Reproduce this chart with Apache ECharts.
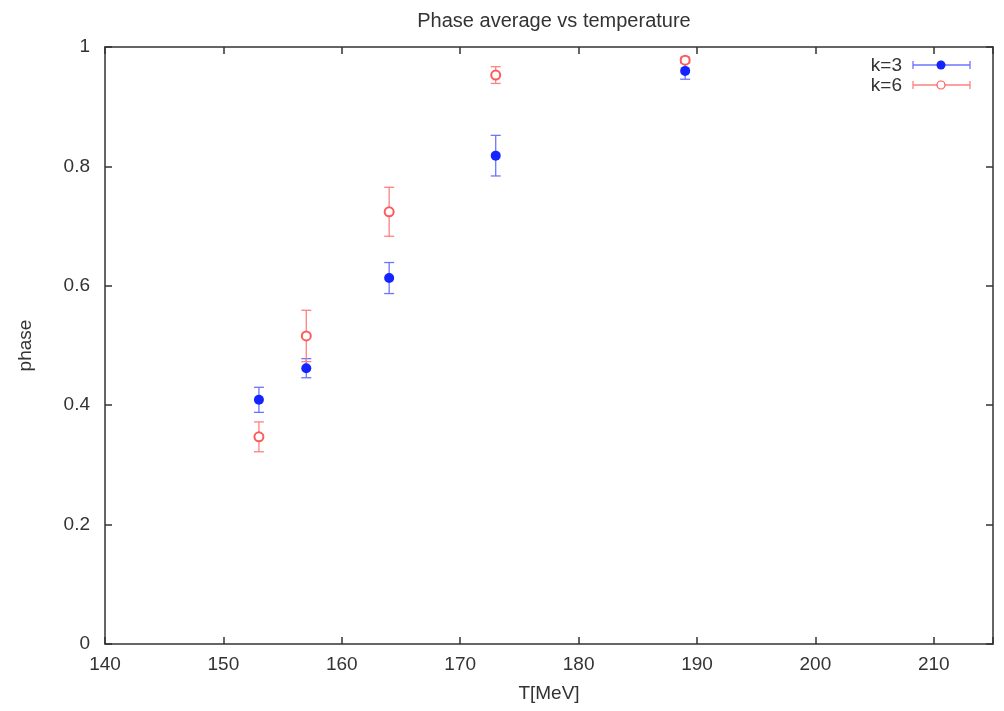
<!DOCTYPE html>
<html>
<head>
<meta charset="utf-8">
<script src="https://cdn.jsdelivr.net/npm/echarts@6/dist/echarts.min.js"></script>
<style>
  html, body { margin: 0; padding: 0; background: #fff; }
  #chart { width: 1004px; height: 711px; }
</style>
</head>
<body>
<div id="chart"></div>
<script>
// temperatures (MeV) and phase averages with errors
const temps = [153, 157, 164, 173, 189]
const k3Phase = [0.409, 0.462, 0.613, 0.818, 0.960]
const k3Err = [0.021, 0.016, 0.026, 0.034, 0.014]
const k6Phase = [0.347, 0.516, 0.724, 0.953, 0.978]
const k6Err = [0.025, 0.043, 0.041, 0.014, 0.005]

const xTicks = [140, 150, 160, 170, 180, 190, 200, 210]
const yTicks = [0, 0.2, 0.4, 0.6, 0.8, 1]

const FONT = 'Liberation Sans'
const FS = 19
const AXIS_COLOR = '#333'
const TEXT_COLOR = '#333'

const blue = '#1424ff'
const blueBar = '#6c74ff'
const red = '#ff5a5a'
const redBar = '#ff8080'

function errData(phase, err) {
  return temps.map((t, i) => [t, phase[i] - err[i], phase[i] + err[i]])
}

function errRender(color) {
  return function (params, api) {
    const x = api.value(0)
    const lo = api.coord([x, api.value(1)])
    const hi = api.coord([x, api.value(2)])
    const hw = 5
    const style = { stroke: color, lineWidth: 1.3 }
    return {
      type: 'group',
      children: [
        { type: 'line', shape: { x1: hi[0], y1: hi[1], x2: lo[0], y2: lo[1] }, style },
        { type: 'line', shape: { x1: hi[0] - hw, y1: hi[1], x2: hi[0] + hw, y2: hi[1] }, style },
        { type: 'line', shape: { x1: lo[0] - hw, y1: lo[1], x2: lo[0] + hw, y2: lo[1] }, style },
      ],
    }
  }
}

function mirrorAxis(base) {
  return Object.assign({}, base, {
    axisLabel: { show: false },
    name: '',
  })
}

const xBase = {
  type: 'value',
  min: 140,
  max: 215,
  interval: 10,
  axisLine: { show: true, onZero: false, lineStyle: { color: AXIS_COLOR, width: 1.5 } },
  axisTick: { show: true, inside: true, length: 7, lineStyle: { color: AXIS_COLOR, width: 1.5 } },
  splitLine: { show: false },
  axisLabel: {
    color: TEXT_COLOR, fontFamily: FONT, fontSize: FS, margin: 11,
    formatter: (v) => (xTicks.includes(v) ? String(v) : ''),
  },
  name: 'T[MeV]',
  nameLocation: 'middle',
  nameGap: 40,
  nameTextStyle: { color: TEXT_COLOR, fontFamily: FONT, fontSize: FS },
}

const yBase = {
  type: 'value',
  min: 0,
  max: 1,
  interval: 0.2,
  axisLine: { show: true, onZero: false, lineStyle: { color: AXIS_COLOR, width: 1.5 } },
  axisTick: { show: true, inside: true, length: 7, lineStyle: { color: AXIS_COLOR, width: 1.5 } },
  splitLine: { show: false },
  axisLabel: {
    color: TEXT_COLOR, fontFamily: FONT, fontSize: FS, margin: 15,
    formatter: (v) => (yTicks.some((t) => Math.abs(t - v) < 1e-9) ? String(+v.toFixed(1)) : ''),
  },
  name: 'phase',
  nameLocation: 'middle',
  nameGap: 70,
  nameRotate: 90,
  nameTextStyle: { color: TEXT_COLOR, fontFamily: FONT, fontSize: FS },
}

const chart = echarts.init(document.getElementById('chart'), null, { renderer: 'canvas' })

chart.setOption({
  backgroundColor: '#fff',
  animation: false,
  title: {
    text: 'Phase average vs temperature',
    left: 549,
    textAlign: 'center',
    top: 6,
    textStyle: { color: TEXT_COLOR, fontFamily: FONT, fontSize: 20, fontWeight: 'normal' },
  },
  grid: { left: 105, right: 11, top: 47, bottom: 67 },
  xAxis: [
    Object.assign({}, xBase, { position: 'bottom' }),
    Object.assign(mirrorAxis(xBase), { position: 'top' }),
  ],
  yAxis: [
    Object.assign({}, yBase, { position: 'left' }),
    Object.assign(mirrorAxis(yBase), { position: 'right' }),
  ],
  graphic: [
    // legend, gnuplot style
    { type: 'text', style: { x: 902, y: 66, text: 'k=3', fill: TEXT_COLOR, font: FS + 'px ' + FONT, align: 'right', verticalAlign: 'middle' } },
    { type: 'line', shape: { x1: 913, y1: 65, x2: 970, y2: 65 }, style: { stroke: blueBar, lineWidth: 1.3 } },
    { type: 'line', shape: { x1: 913, y1: 61, x2: 913, y2: 69 }, style: { stroke: blueBar, lineWidth: 1.3 } },
    { type: 'line', shape: { x1: 970, y1: 61, x2: 970, y2: 69 }, style: { stroke: blueBar, lineWidth: 1.3 } },
    { type: 'circle', shape: { cx: 941, cy: 65, r: 4.5 }, style: { fill: blue } },
    { type: 'text', style: { x: 902, y: 86, text: 'k=6', fill: TEXT_COLOR, font: FS + 'px ' + FONT, align: 'right', verticalAlign: 'middle' } },
    { type: 'line', shape: { x1: 913, y1: 85, x2: 970, y2: 85 }, style: { stroke: redBar, lineWidth: 1.3 } },
    { type: 'line', shape: { x1: 913, y1: 81, x2: 913, y2: 89 }, style: { stroke: redBar, lineWidth: 1.3 } },
    { type: 'line', shape: { x1: 970, y1: 81, x2: 970, y2: 89 }, style: { stroke: redBar, lineWidth: 1.3 } },
    { type: 'circle', shape: { cx: 941, cy: 85, r: 4 }, style: { fill: '#fff', stroke: red, lineWidth: 1.2 } },
  ],
  series: [
    {
      name: 'k=3 err',
      type: 'custom',
      renderItem: errRender(blueBar),
      data: errData(k3Phase, k3Err),
      encode: { x: 0, y: [1, 2] },
      z: 2,
    },
    {
      name: 'k=6 err',
      type: 'custom',
      renderItem: errRender(redBar),
      data: errData(k6Phase, k6Err),
      encode: { x: 0, y: [1, 2] },
      z: 2,
    },
    {
      name: 'k=3',
      type: 'scatter',
      data: temps.map((t, i) => [t, k3Phase[i]]),
      symbol: 'circle',
      symbolSize: 10,
      itemStyle: { color: blue, opacity: 1 },
      z: 4,
    },
    {
      name: 'k=6',
      type: 'scatter',
      data: temps.map((t, i) => [t, k6Phase[i]]),
      symbol: 'emptyCircle',
      symbolSize: 9,
      itemStyle: { color: red, borderColor: red, borderWidth: 1.2, opacity: 1 },
      z: 3,
    },
  ],
})
</script>
</body>
</html>
